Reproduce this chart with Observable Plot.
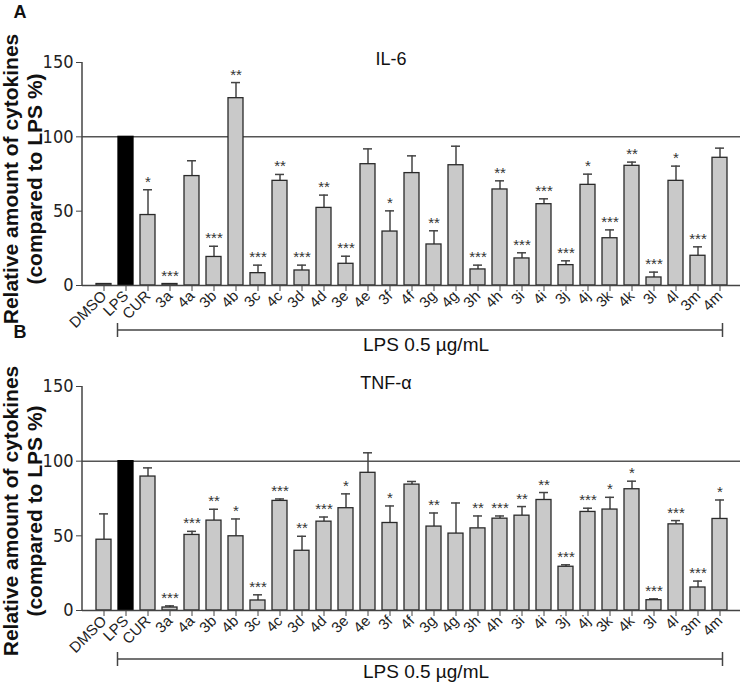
<!DOCTYPE html>
<html><head><meta charset="utf-8">
<script src="https://cdn.jsdelivr.net/npm/d3@7"></script>
<script src="https://cdn.jsdelivr.net/npm/@observablehq/plot@0.6"></script>
<style>
body{margin:0;background:#fff;font-family:"Liberation Sans",Arial,sans-serif;}
#chart{width:742px;height:682px;position:relative;overflow:hidden;}
#chart svg{display:block;overflow:visible;}
</style></head><body><div id="chart"></div>
<script>
const categories = ["DMSO","LPS","CUR","3a","4a","3b","4b","3c","4c","3d","4d","3e","4e","3f","4f","3g","4g","3h","4h","3i","4i","3j","4j","3k","4k","3l","4l","3m","4m"];
const yTicks = [0, 50, 100, 150];

const il6Mean = [1, 100, 47.4, 1, 73.6, 19.2, 126, 8.3, 70.4, 10.1, 52.2, 14.6, 81.6, 36.3, 75.6, 27.6, 80.9, 10.8, 64.6, 18.2, 54.7, 13.7, 67.7, 31.8, 80.5, 5.4, 70.4, 20.0, 85.9];
const il6Err  = [0, 0, 17, 0, 10.3, 7.2, 10.5, 5.4, 4.3, 3.6, 8.6, 5.1, 10.3, 13.9, 11.6, 9.2, 12.8, 2.9, 5.8, 3.8, 3.6, 2.9, 7.2, 5.6, 2.5, 3.6, 9.9, 6.0, 6.5];
const il6Stars = ["", "", "*", "***", "", "***", "**", "***", "**", "***", "**", "***", "", "*", "", "**", "", "***", "**", "***", "***", "***", "*", "***", "**", "***", "*", "***", ""];

const tnfMean = [47.4, 100, 89.7, 2.0, 50.6, 60.2, 49.7, 6.7, 73.4, 40.0, 59.5, 68.5, 92.2, 58.6, 84.3, 56.2, 51.5, 55.0, 61.5, 63.5, 74.0, 29.3, 66.0, 67.6, 81.2, 6.9, 57.7, 15.4, 61.3];
const tnfErr  = [17.3, 0, 5.8, 1.1, 2.4, 7.6, 11.6, 3.8, 1.3, 9.7, 3.1, 9.6, 13.4, 11.4, 2.1, 9.1, 20.5, 8.3, 1.8, 6.1, 5.0, 1.3, 2.5, 8.2, 5.4, 0.9, 2.5, 4.3, 12.7];
const tnfStars = ["", "", "", "***", "***", "**", "*", "***", "***", "**", "***", "*", "", "*", "", "**", "", "**", "***", "**", "**", "***", "***", "*", "*", "***", "***", "***", "*"];

const yLabel1 = "Relative amount of cytokines";
const yLabel2 = "(compared to LPS %)";
const bracketLabel = "LPS 0.5 \u00b5g/mL";
const controlName = "LPS";

const FONT = "'Liberation Sans', Arial, Helvetica, sans-serif";
const NARROW = "'Liberation Sans Narrow', 'Arial Narrow', 'DejaVu Sans Condensed', 'Liberation Sans', sans-serif";

function panel(cfg) {
  const rows = categories.map((c, i) => ({
    name: c, value: cfg.mean[i], err: cfg.err[i], upper: cfg.mean[i] + cfg.err[i], stars: cfg.stars[i]
  }));
  const withErr = rows.filter(d => d.err > 0);
  const plot = Plot.plot({
    width: 742, height: cfg.height,
    marginTop: cfg.marginTop, marginBottom: cfg.marginBottom, marginLeft: 82, marginRight: 2,
    style: {background: "transparent", fontFamily: FONT, fontSize: "16px", overflow: "visible", color: "#222"},
    x: {domain: categories, paddingInner: 0.33, paddingOuter: 0.29, label: null},
    y: {domain: [0, 150], label: null},
    marks: [
      Plot.ruleY([100], {stroke: "#555", strokeWidth: 1.5}),
      Plot.ruleX(withErr, {x: "name", y1: "value", y2: "upper", stroke: "#444", strokeWidth: 1.5}),
      Plot.tickY(withErr, {x: "name", y: "upper", stroke: "#444", strokeWidth: 1.5, insetLeft: 3, insetRight: 3}),
      Plot.barY(rows.filter(d => d.name !== controlName), {x: "name", y: "value", fill: "#c9c9c9", stroke: "#2a2a2a", strokeWidth: 1.3}),
      Plot.barY(rows.filter(d => d.name === controlName), {x: "name", y: "value", fill: "#000", stroke: "#000", strokeWidth: 1.3}),
      Plot.text(rows, {x: "name", y: "upper", text: "stars", dy: -3, lineAnchor: "bottom", fontSize: 15, fill: "#333"}),
      Plot.ruleY([0], {stroke: "#444", strokeWidth: 1.5}),
      Plot.axisY(yTicks, {tickSize: 6, tickPadding: 3, label: null, stroke: "#444", fill: "#222"}),
      Plot.axisX({tickRotate: -45, tickSize: 6, tickPadding: 2, label: null, stroke: "#444", fill: "#222"})
    ]
  });
  const svg = d3.select(plot);
  const x = plot.scale("x"), y = plot.scale("y");
  const bw = x.bandwidth;
  svg.selectAll('g[aria-label="y-axis tick label"]').attr("font-size", 18).attr("font-family", NARROW);
  svg.selectAll('g[aria-label="x-axis tick label"]').attr("font-size", 15).attr("font-family", FONT);
  // y axis line
  svg.append("line").attr("x1", 82).attr("x2", 82)
    .attr("y1", y.apply(0)).attr("y2", y.apply(150))
    .attr("stroke", "#444").attr("stroke-width", 1.5);
  // panel letter
  svg.append("text").attr("x", 20).attr("y", cfg.letterY)
    .attr("font-family", FONT).attr("font-size", 18).attr("font-weight", "bold").attr("fill", "#111")
    .text(cfg.letter);
  // title
  svg.append("text").attr("x", cfg.titleX).attr("y", y.apply(150) + 3)
    .attr("text-anchor", "middle").attr("font-family", FONT).attr("font-size", 18).attr("fill", "#111")
    .text(cfg.title);
  // y label
  const g = svg.append("g").attr("font-family", FONT).attr("font-size", 21).attr("font-weight", "bold")
    .attr("fill", "#111").attr("text-anchor", "middle");
  g.append("text").attr("transform", `translate(18,${cfg.labelY}) rotate(-90)`).text(yLabel1);
  g.append("text").attr("transform", `translate(42,${cfg.labelY}) rotate(-90)`).text(yLabel2);
  // bracket
  const bx1 = x.apply(controlName) - 0.5;
  const bx2 = x.apply(categories[categories.length - 1]) + bw * 0.7;
  const by = cfg.bracketY;
  const br = svg.append("g").attr("stroke", "#444").attr("stroke-width", 1.5);
  br.append("line").attr("x1", bx1).attr("x2", bx2).attr("y1", by).attr("y2", by);
  br.append("line").attr("x1", bx1).attr("x2", bx1).attr("y1", by - 7).attr("y2", by + 7);
  br.append("line").attr("x1", bx2).attr("x2", bx2).attr("y1", by - 7).attr("y2", by + 7);
  svg.append("text").attr("x", 426).attr("y", cfg.bracketTextY)
    .attr("text-anchor", "middle").attr("font-family", FONT).attr("font-size", 19).attr("fill", "#111")
    .text(bracketLabel);
  return plot;
}

const chart = document.getElementById("chart");
chart.append(panel({
  mean: il6Mean, err: il6Err, stars: il6Stars, title: "IL-6", letter: "A",
  height: 340, marginTop: 62, marginBottom: 55, letterY: 18, titleX: 391, labelY: 179,
  bracketY: 330, bracketTextY: 351
}));
chart.append(panel({
  mean: tnfMean, err: tnfErr, stars: tnfStars, title: "TNF-\u03b1", letter: "B",
  height: 342, marginTop: 46, marginBottom: 72, letterY: -2, titleX: 386, labelY: 171,
  bracketY: 319, bracketTextY: 338
}));
</script></body></html>
